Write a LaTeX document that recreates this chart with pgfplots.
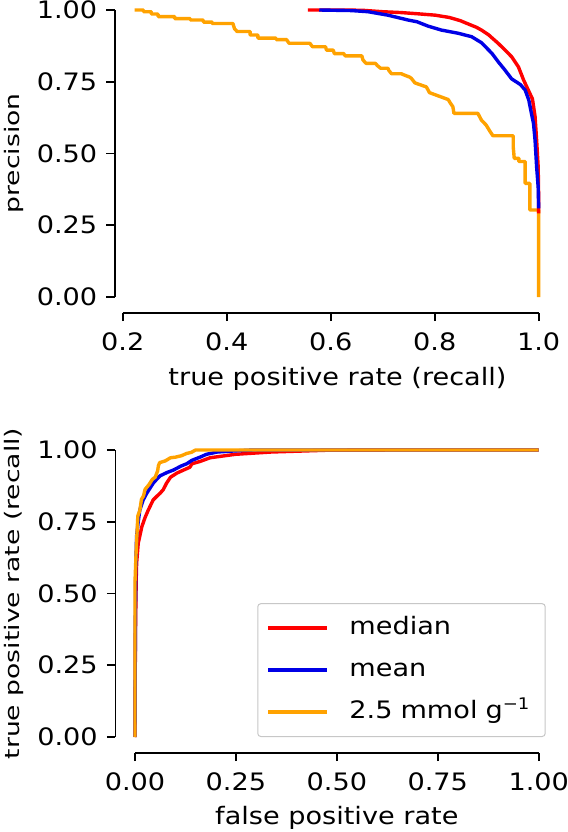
\documentclass[border=0pt]{standalone}
\usepackage{pgfplots}
\pgfplotsset{compat=1.18}
\usepackage{fontspec}
\setmainfont{DejaVu Sans}[FakeStretch=1.13]
\newfontfamily\rotfont{DejaVu Sans}[FakeStretch=1.33]
\definecolor{cred}{RGB}{255,0,0}
\definecolor{cblue}{RGB}{0,0,230}
\definecolor{corange}{RGB}{255,162,0}
\pgfplotsset{
  myax/.style={
    anchor=south west, scale only axis, clip=false,
    axis x line*=bottom, axis y line*=left,
    axis line style={-, line width=0.9pt, black},
    tick style={black, line width=0.9pt},
    major tick length=4.25pt, tick align=outside,
    font=\fontsize{12}{14.4}\selectfont,
    tick label style={font=\fontsize{12}{14.4}\selectfont, inner sep=0pt},
    xlabel style={font=\fontsize{12}{14.4}\selectfont, inner sep=0pt},
    ylabel style={font=\fontsize{10}{12}\rotfont, inner sep=0pt},
    yticklabel style={anchor=east, xshift=-4.45pt},
    xticklabel style={anchor=north, yshift=-5.4pt},
    /pgf/number format/assume math mode=true,
    every axis plot/.append style={line width=1.7pt, line join=round},
  }
}
\begin{document}
\begin{tikzpicture}
\useasboundingbox (0pt,0pt) rectangle (284pt,416pt);
\begin{axis}[myax, at={(61.35pt,267.5pt)}, width=208pt, height=143.5pt,
  xmin=0.2, xmax=1.0, ymin=0, ymax=1,
  axis x line shift=7.85pt, axis y line shift=3.85pt,
  xtick={0.2,0.4,0.6,0.8,1.0}, ytick={0,0.25,0.5,0.75,1},
  xticklabel style={/pgf/number format/.cd, fixed, fixed zerofill, precision=1},
  yticklabel style={/pgf/number format/.cd, fixed, fixed zerofill, precision=2},
  xlabel={true positive rate (recall)}, ylabel={precision},
  xlabel style={at={(axis description cs:0.5163,-0.310)}, anchor=base},
  ylabel style={at={(axis description cs:-0.2469,0.5)}, anchor=base},
]
\addplot[corange] coordinates {
(0.223,1.000) (0.240,1.000) (0.240,0.994) (0.255,0.994) (0.255,0.986) (0.268,0.986)
(0.268,0.977) (0.300,0.977) (0.300,0.970) (0.330,0.970) (0.330,0.965) (0.355,0.965)
(0.355,0.958) (0.372,0.958) (0.372,0.953) (0.412,0.953) (0.415,0.935) (0.420,0.925)
(0.445,0.925) (0.445,0.913) (0.460,0.913) (0.460,0.902) (0.495,0.902) (0.495,0.897)
(0.515,0.897) (0.520,0.884) (0.560,0.884) (0.565,0.872) (0.590,0.872) (0.592,0.860)
(0.605,0.860) (0.607,0.848) (0.625,0.848) (0.628,0.840) (0.660,0.840) (0.662,0.826)
(0.668,0.814) (0.686,0.814) (0.690,0.806) (0.696,0.797) (0.710,0.797) (0.712,0.789)
(0.717,0.778) (0.736,0.778) (0.738,0.776) (0.752,0.766) (0.755,0.762) (0.762,0.746)
(0.784,0.732) (0.790,0.712) (0.808,0.700) (0.826,0.688) (0.830,0.676) (0.835,0.663)
(0.837,0.640) (0.883,0.640) (0.890,0.616) (0.899,0.599) (0.906,0.578) (0.912,0.562)
(0.951,0.562) (0.951,0.524) (0.953,0.483) (0.962,0.483) (0.962,0.472) (0.974,0.472)
(0.974,0.396) (0.983,0.396) (0.983,0.303) (1.000,0.303) (1.000,0.000)
};
\addplot[cred] coordinates {
(0.556,1.000) (0.620,1.000) (0.661,0.999) (0.700,0.994) (0.736,0.991) (0.766,0.987)
(0.801,0.982) (0.828,0.974) (0.849,0.963) (0.865,0.951) (0.880,0.940) (0.890,0.930)
(0.904,0.913) (0.912,0.900) (0.922,0.884) (0.935,0.861) (0.948,0.837) (0.961,0.802)
(0.971,0.756) (0.980,0.721) (0.988,0.690) (0.993,0.629) (0.996,0.547) (0.999,0.454)
(1.000,0.338) (1.000,0.291)
};
\addplot[cblue] coordinates {
(0.578,1.000) (0.640,0.998) (0.672,0.994) (0.710,0.982) (0.749,0.965) (0.766,0.959)
(0.787,0.944) (0.813,0.930) (0.845,0.919) (0.871,0.907) (0.890,0.886) (0.910,0.849)
(0.922,0.820) (0.935,0.791) (0.948,0.760) (0.965,0.740) (0.974,0.721) (0.981,0.686)
(0.986,0.640) (0.990,0.605) (0.993,0.547) (0.996,0.454) (0.999,0.384) (1.000,0.309)
};
\end{axis}
\begin{axis}[myax, at={(67.5pt,47.5pt)}, width=201.85pt, height=143.5pt,
  xmin=0, xmax=1, ymin=0, ymax=1,
  axis x line shift=7.85pt, axis y line shift=9.75pt,
  xtick={0,0.25,0.5,0.75,1}, ytick={0,0.25,0.5,0.75,1},
  xticklabel style={/pgf/number format/.cd, fixed, fixed zerofill, precision=2},
  yticklabel style={/pgf/number format/.cd, fixed, fixed zerofill, precision=2},
  xlabel={false positive rate}, ylabel={true positive rate (recall)},
  xlabel style={at={(axis description cs:0.5,-0.3066)}, anchor=base},
  ylabel style={at={(axis description cs:-0.2849,0.5)}, anchor=base},
  legend cell align=left,
  legend style={at={(axis description cs:1.0173,0)}, anchor=south east,
    draw=black!22, line width=0.5pt, rounded corners=1.5pt, fill=white,
    font=\fontsize{12}{14.4}\selectfont, inner xsep=4.5pt, inner ysep=6pt,
    row sep=8.6pt,
    nodes={inner sep=0pt, text height=9.5pt, text depth=2.9pt, text width=93.35pt},
    /tikz/every odd column/.append style={column sep=10.5pt}},
  legend image code/.code={\draw[#1] (0pt,0pt) -- (29.15pt,0pt);},
]
\addplot[cred] coordinates {
(0,0) (0.001,0.350) (0.003,0.550) (0.004,0.605) (0.008,0.675) (0.017,0.733)
(0.025,0.765) (0.033,0.791) (0.045,0.826) (0.055,0.840) (0.062,0.849) (0.070,0.862)
(0.078,0.884) (0.088,0.905) (0.103,0.919) (0.120,0.930) (0.136,0.940) (0.141,0.952)
(0.161,0.960) (0.186,0.973) (0.249,0.985) (0.338,0.993) (0.472,0.999) (0.650,1.000)
(1.000,1.000)
};
\addlegendentry{median}
\addplot[cblue] coordinates {
(0,0) (0.001,0.400) (0.002,0.600) (0.004,0.700) (0.008,0.750) (0.012,0.791)
(0.020,0.825) (0.029,0.849) (0.045,0.884) (0.055,0.900) (0.062,0.910) (0.080,0.922)
(0.095,0.930) (0.114,0.944) (0.128,0.952) (0.141,0.964) (0.161,0.975) (0.177,0.985)
(0.204,0.993) (0.249,0.997) (0.293,1.000) (1.000,1.000)
};
\addlegendentry{mean}
\addplot[corange] coordinates {
(0,0) (0.000,0.540) (0.003,0.654) (0.007,0.770) (0.012,0.790) (0.016,0.828)
(0.021,0.840) (0.025,0.863) (0.035,0.880) (0.043,0.898) (0.050,0.905) (0.056,0.927)
(0.058,0.945) (0.061,0.956) (0.075,0.962) (0.088,0.973) (0.100,0.975) (0.115,0.980)
(0.128,0.988) (0.140,0.992) (0.150,1.000) (1.000,1.000)
};
\addlegendentry{2.5 mmol g\textsuperscript{−1}}
\end{axis}
\end{tikzpicture}
\end{document}
